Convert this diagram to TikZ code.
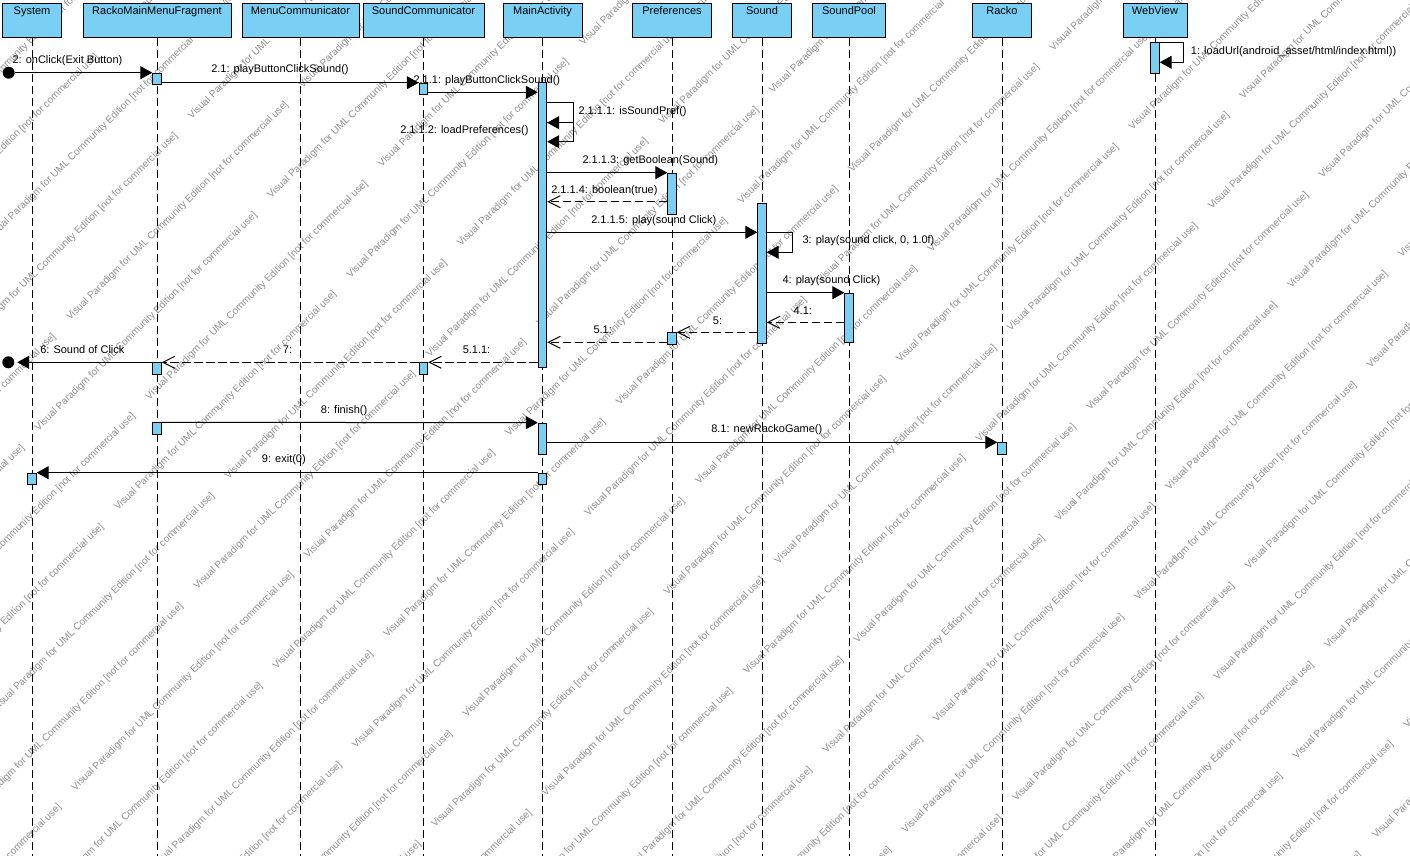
\documentclass[tikz,border=0pt]{standalone}
\usepackage{fontspec}
\setmainfont{Liberation Sans}
\usetikzlibrary{positioning,arrows.meta}
\definecolor{LifeBlue}{HTML}{7ACFF5}
\definecolor{MarkGray}{HTML}{8E8E8E}
\newcommand{\vpmark}{Visual Paradigm for UML Community Edition [not for commercial use]}

\begin{document}
\begin{tikzpicture}[x=.75pt,y=-.75pt,font=\fontsize{8.25pt}{10pt}\selectfont]
\tikzstyle{head}=[draw,fill=LifeBlue,line width=.75pt,anchor=north,inner xsep=0pt,inner ysep=1.5pt,text height=6.75pt,text depth=15.75pt]
\tikzstyle{act}=[draw,fill=LifeBlue,line width=.75pt,anchor=north,inner sep=0pt,minimum width=6.3pt]
\tikzstyle{life}=[line width=.75pt,dash pattern=on 6pt off 3pt]
\tikzstyle{msg}=[line width=.75pt,-{Triangle[length=9pt,width=9.75pt]}]
\tikzstyle{ret}=[line width=.75pt,dash pattern=on 6.5pt off 2.5pt,-{Straight Barb[length=9pt,width=9pt]}]
\tikzstyle{dot}=[circle,fill=black,inner sep=0pt,minimum size=9pt]
\tikzstyle{lbl}=[anchor=west,inner sep=0pt]
\tikzstyle{wmark}=[anchor=west,inner sep=0pt,rotate=44.6,text=MarkGray,font=\fontsize{7.5pt}{9pt}\selectfont]
\useasboundingbox (0,0) rectangle (1410,856);
\fill[white] (0,0) rectangle (1410,856);
\begin{scope}
\clip (0,0) rectangle (1410,856);
\foreach \k in {-8,...,21}
  \foreach \j in {-2,...,4}{
    \pgfmathsetmacro\s{625+79.3*\k}
    \pgfmathsetmacro\d{-393+142*Mod(\k,2)+465*\j}
    \node[wmark] (wm-\k-\j) at ({(\s+\d)/2},{(\s-\d)/2}) {\vpmark};
  }
\end{scope}
\coordinate (bot) at (0,856);
\node[head,minimum width=44.25pt] (sys) at (32,3) {System};
\node[head,minimum width=111pt] (rmf) at (157,3) {RackoMainMenuFragment};
\node[head,minimum width=87.75pt] (mc) at (300.5,3) {MenuCommunicator};
\node[head,minimum width=90.75pt] (sc) at (423.5,3) {SoundCommunicator};
\node[head,minimum width=59.25pt] (ma) at (542.5,3) {MainActivity};
\node[head,minimum width=59.25pt] (pr) at (672,3) {Preferences};
\node[head,minimum width=44.25pt] (so) at (762,3) {Sound};
\node[head,minimum width=54.75pt] (sp) at (849,3) {SoundPool};
\node[head,minimum width=44.25pt] (ra) at (1002,3) {Racko};
\node[head,minimum width=48pt] (wv) at (1155,3) {WebView};
\foreach \h in {sys,rmf,mc,sc,ma,pr,so,sp,ra,wv}
  \draw[life] (\h.south) -- (\h.south |- bot);
\node[act,minimum height=8.5pt] (sys1) at (32,472.7) {};
\node[act,minimum height=8.7pt] (rm1) at (157,72.7) {};
\node[act,minimum height=8.8pt] (rm2) at (157,362.3) {};
\node[act,minimum height=8.8pt] (rm3) at (157,422.3) {};
\node[act,minimum height=8.7pt] (sc1) at (423.5,82.7) {};
\node[act,minimum height=8.8pt] (sc2) at (423.5,362.3) {};
\node[act,minimum height=213.75pt] (ma1) at (542.5,82) {};
\node[act,minimum height=23.5pt] (ma2) at (542.5,422.7) {};
\node[act,minimum height=8.5pt] (ma3) at (542.5,472.7) {};
\node[act,minimum height=31pt] (pr1) at (672,172.7) {};
\node[act,minimum height=9pt] (pr2) at (672,332.3) {};
\node[act,minimum height=104.5pt] (so1) at (762,203.3) {};
\node[act,minimum height=37.2pt] (sp1) at (849,292.7) {};
\node[act,minimum height=8.8pt] (ra1) at (1002,442.3) {};
\node[act,minimum height=23.25pt] (wv1) at (1155,42.3) {};
\node[dot] (st) at (8.7,72.7) {};
\node[dot] (en) at (8.3,362.3) {};
\coordinate (r1) at (0,62.3);
\coordinate (r211) at (0,92.3);
\coordinate (r2111) at (0,102.7);
\coordinate (r2112) at (0,122.7);
\coordinate (r2113) at (0,141.7);
\coordinate (r2114) at (0,201.7);
\coordinate (r2115) at (0,232.3);
\coordinate (r3) at (0,252.3);
\coordinate (r41) at (0,322.3);
\coordinate (r51) at (0,342.3);
\draw[msg] (wv1.north east) -- ++(24,0) |- (wv1.east |- r1);
\draw[msg] (st) -- (rm1.north west);
\draw[msg] (rm1.east |- sc1.north) -- (sc1.north west);
\draw[msg] (sc1.east |- r211) -- (ma1.west |- r211);
\draw[msg] (ma1.east |- r2111) -- ++(26,0) |- (ma1.east |- r2112);
\draw[msg] (ma1.east |- r2112) -- ++(26,0) |- (ma1.east |- r2113);
\draw[msg] (ma1.east |- pr1.north) -- (pr1.north west);
\draw[ret] (pr1.west |- r2114) -- (ma1.east |- r2114);
\draw[msg] (ma1.east |- r2115) -- (so1.west |- r2115);
\draw[msg] (so1.east |- r2115) -- ++(26,0) |- (so1.east |- r3);
\draw[msg] (so1.east |- sp1.north) -- (sp1.north west);
\draw[ret] (sp1.west |- r41) -- (so1.east |- r41);
\draw[ret] (so1.west |- pr2.north) -- (pr2.north east);
\draw[ret] (pr2.west |- r51) -- (ma1.east |- r51);
\draw[ret] (ma1.west |- sc2.north) -- (sc2.north east);
\draw[ret] (sc2.north west) -- (rm2.north east);
\draw[msg,shorten >=2pt] (rm2.north west) -- (en);
\draw[msg] (rm3.north east) -- (ma2.north west);
\draw[msg] (ma2.east |- ra1.north) -- (ra1.north west);
\draw[msg] (ma3.north west) -- (sys1.north east);
\node[lbl] (l1) at (1190.7,51.7) {1: loadUrl(android\_asset/html/index.html))};
\node[lbl] (l2) at (12.3,60.7) {2: onClick(Exit Button)};
\node[lbl] (l21) at (211,70) {2.1: playButtonClickSound()};
\node[lbl] (l211) at (413.3,80.7) {2.1.1: playButtonClickSound()};
\node[lbl] (l2111) at (578.3,111.7) {2.1.1.1: isSoundPref()};
\node[lbl] (l2112) at (400,130.7) {2.1.1.2: loadPreferences()};
\node[lbl] (l2113) at (582.3,160.7) {2.1.1.3: getBoolean(Sound)};
\node[lbl] (l2114) at (551,190.7) {2.1.1.4: boolean(true)};
\node[lbl] (l2115) at (591,220.7) {2.1.1.5: play(sound Click)};
\node[lbl] (l3) at (802.3,240.7) {3: play(sound click, 0, 1.0f)};
\node[lbl] (l4) at (782.3,280.7) {4: play(sound Click)};
\node[lbl] (l41) at (793.3,310.7) {4.1:};
\node[lbl] (l5) at (712.7,320.7) {5:};
\node[lbl] (l51) at (593.3,330) {5.1:};
\node[lbl] (l511) at (462.5,350) {5.1.1:};
\node[lbl] (l6) at (40,350) {6: Sound of Click};
\node[lbl] (l7) at (282.7,350) {7:};
\node[lbl] (l8) at (320.7,411) {8: finish()};
\node[lbl] (l81) at (711,430) {8.1: newRackoGame()};
\node[lbl] (l9) at (261.7,460) {9: exit(0)};
\end{tikzpicture}
\end{document}
